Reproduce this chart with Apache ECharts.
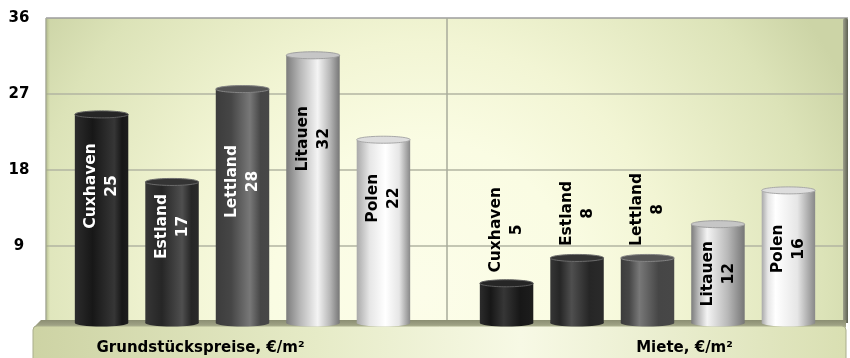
<!DOCTYPE html>
<html>
<head>
<meta charset="utf-8">
<script src="https://cdn.jsdelivr.net/npm/echarts@6/dist/echarts.min.js"></script>
<style>
  html, body { margin: 0; padding: 0; background: #ffffff; }
  #chart { width: 850px; height: 358px; }
</style>
</head>
<body>
<div id="chart"></div>
<script>
// Categories and values (€/m²)
const categories = ['Grundstückspreise, €/m²', 'Miete, €/m²'];
const countries = ['Cuxhaven', 'Estland', 'Lettland', 'Litauen', 'Polen'];
const cuxhaven = [25, 5];
const estland = [17, 8];
const lettland = [28, 8];
const litauen = [32, 12];
const polen = [22, 16];
const valueTicks = [0, 9, 18, 27, 36];

const seriesValues = [cuxhaven, estland, lettland, litauen, polen];

// Label centre in px below the bar top, per country and category (negative = above the bar)
const labelShift = [[75, -50], [48, -41], [96, -45], [87, 53], [62, 62]];

// Cylinder layout as a share of the category band
const BAR_PITCH = 0.1740;
const BAR_WIDTH = 0.132;
const CAP_RY = 3.5;

// Cylinder shading per country
const shades = [
  { edge: '#2c2c2c', body: '#171717', high: '#363636', edgeR: '#1d1d1d', cap: '#262626', rim: '#5e5e5e', text: '#ffffff' },
  { edge: '#363636', body: '#262626', high: '#4f4f4f', edgeR: '#2a2a2a', cap: '#343434', rim: '#6c6c6c', text: '#ffffff' },
  { edge: '#3c3c3c', body: '#464646', high: '#787878', edgeR: '#474747', cap: '#555555', rim: '#848484', text: '#ffffff' },
  { edge: '#7c7c7c', body: '#b8b8b8', high: '#f4f4f4', edgeR: '#767676', cap: '#c6c6c6', rim: '#a0a0a0', text: '#000000' },
  { edge: '#a9a9a9', body: '#e6e6e6', high: '#ffffff', edgeR: '#888888', cap: '#dddddd', rim: '#a8a8a8', text: '#000000' }
];

const AXIS_FONT = { fontFamily: 'DejaVu Sans', fontWeight: 'bold', fontSize: 15 };
const BAR_FONT = { fontFamily: 'DejaVu Sans', fontWeight: 'bold', fontSize: 15.5 };

function cylinder(params, api) {
  const si = params.seriesIndex;
  const cat = api.value(0);
  const val = api.value(1);
  const band = api.size([1, 0])[0];
  const pTop = api.coord([cat, val]);
  const pBase = api.coord([cat, 0]);
  const w = band * BAR_WIDTH;
  const cx = pTop[0] + (si - 2) * band * BAR_PITCH;
  const x = cx - w / 2;
  const yTop = pTop[1] + CAP_RY;
  const yBase = pBase[1] + 1;
  const sh = shades[si];

  // highlight drifts to the left for cylinders further right
  const hl = Math.max(0.26, Math.min(0.74, 0.74 - 0.5 * (cx - 100) / 700));
  const grad = new echarts.graphic.LinearGradient(0, 0, 1, 0, [
    { offset: 0, color: sh.edge },
    { offset: hl * 0.45, color: sh.body },
    { offset: hl, color: sh.high },
    { offset: hl + (1 - hl) * 0.55, color: sh.body },
    { offset: 1, color: sh.edgeR }
  ]);

  const shift = labelShift[si][cat];
  return {
    type: 'group',
    children: [
      { type: 'ellipse', shape: { cx: cx, cy: yBase, rx: w / 2, ry: CAP_RY }, style: { fill: grad } },
      { type: 'rect', shape: { x: x, y: yTop, width: w, height: yBase - yTop }, style: { fill: grad } },
      { type: 'ellipse', shape: { cx: cx, cy: yTop, rx: w / 2, ry: CAP_RY },
        style: { fill: sh.cap, stroke: sh.rim, lineWidth: 1 } },
      {
        type: 'text',
        x: cx,
        y: pTop[1] + shift,
        rotation: Math.PI / 2,
        style: Object.assign({
          text: countries[si] + '\n' + val,
          fill: shift < 0 ? '#000000' : sh.text,
          align: 'center',
          verticalAlign: 'middle',
          lineHeight: 21
        }, BAR_FONT)
      }
    ]
  };
}

const chart = echarts.init(document.getElementById('chart'), null, { renderer: 'canvas' });

const tickStep = valueTicks[1] - valueTicks[0];
const wallGradient = {
  type: 'radial', x: 0.47, y: 0.9, r: 1.55,
  colorStops: [
    { offset: 0, color: '#fcfde9' },
    { offset: 0.32, color: '#fafce3' },
    { offset: 0.53, color: '#f2f5d4' },
    { offset: 0.85, color: '#dce3b8' },
    { offset: 1, color: '#ccd4a6' }
  ]
};

chart.setOption({
  animation: false,
  backgroundColor: '#ffffff',
  grid: [
    // back wall
    { left: 46, right: 2, top: 18, bottom: 36, show: true, backgroundColor: wallGradient, borderWidth: 0 },
    // cylinders
    { left: 40, right: -4, top: 18, bottom: 36 }
  ],
  xAxis: [
    {
      gridIndex: 0, type: 'category', data: categories,
      axisLine: { show: false }, axisTick: { show: false }, axisLabel: { show: false },
      splitLine: { show: true, lineStyle: { color: '#a9ab9b', width: 1.5 } }
    },
    {
      gridIndex: 1, type: 'category', data: categories, z: 3,
      axisLine: { show: false }, axisTick: { show: false }, splitLine: { show: false },
      axisLabel: {
        margin: 19,
        formatter: function (v, i) { return i === 0 ? '{a|' + v + '}' : '{b|' + v + '}'; },
        rich: {
          a: Object.assign({ color: '#000000', padding: [0, 84, 0, 0] }, AXIS_FONT),
          b: Object.assign({ color: '#000000', padding: [0, 0, 0, 74] }, AXIS_FONT)
        }
      }
    }
  ],
  yAxis: [
    {
      gridIndex: 0, type: 'value',
      min: valueTicks[0], max: valueTicks[valueTicks.length - 1], interval: tickStep,
      axisLine: { show: false }, axisTick: { show: false },
      axisLabel: Object.assign({
        color: '#000000', align: 'center', margin: 27, padding: [5, 0, 0, 0],
        formatter: function (v) { return v === 0 ? '' : String(v); }
      }, AXIS_FONT),
      splitLine: { lineStyle: { color: ['#b2b4a2', '#b2b4a2', '#b2b4a2', '#b2b4a2', '#9c9c9c'], width: 1.5 } }
    },
    {
      gridIndex: 1, type: 'value', show: false,
      min: valueTicks[0], max: valueTicks[valueTicks.length - 1], interval: tickStep
    }
  ],
  graphic: {
    elements: [
      // side strip along the left edge of the wall
      { type: 'rect', z: 1, shape: { x: 46.5, y: 19, width: 4, height: 302 },
        style: { fill: new echarts.graphic.LinearGradient(0, 0, 1, 0, [
          { offset: 0, color: 'rgba(150,160,110,0.55)' }, { offset: 1, color: 'rgba(200,208,160,0)' }]) } },
      // right side shadow of the wall
      { type: 'rect', z: 1, shape: { x: 843, y: 18, width: 5, height: 305, r: [3, 3, 0, 0] },
        style: { fill: new echarts.graphic.LinearGradient(0, 0, 1, 0, [
          { offset: 0, color: '#9ea18c' }, { offset: 1, color: '#5c5f52' }]) } },
      // white margin right of the shadow
      { type: 'rect', z: 1, shape: { x: 848, y: 16, width: 4, height: 310 }, style: { fill: '#ffffff' } },
      // floor, top face
      { type: 'polygon', z: 1, shape: { points: [[41, 320], [846, 320], [846, 327], [34, 327]] },
        style: { fill: new echarts.graphic.LinearGradient(0, 0, 0, 1, [
          { offset: 0, color: '#8b8e72' }, { offset: 1, color: '#a6a98c' }]) } },
      // floor, front face
      { type: 'rect', z: 1, shape: { x: 33, y: 326, width: 813, height: 40, r: 4 },
        style: { fill: new echarts.graphic.LinearGradient(0, 0, 1, 0, [
          { offset: 0, color: '#cdd3a4' }, { offset: 0.35, color: '#e6ebc7' },
          { offset: 0.6, color: '#f7f9e5' }, { offset: 1, color: '#d9dfb2' }]),
          stroke: '#a9ad8c', lineWidth: 1 } }
    ]
  },
  series: seriesValues.map(function (values, si) {
    return {
      name: countries[si],
      type: 'custom',
      coordinateSystem: 'cartesian2d',
      xAxisIndex: 1,
      yAxisIndex: 1,
      renderItem: cylinder,
      encode: { x: 0, y: 1 },
      data: values.map(function (v, ci) { return [ci, v]; })
    };
  })
});
</script>
</body>
</html>
